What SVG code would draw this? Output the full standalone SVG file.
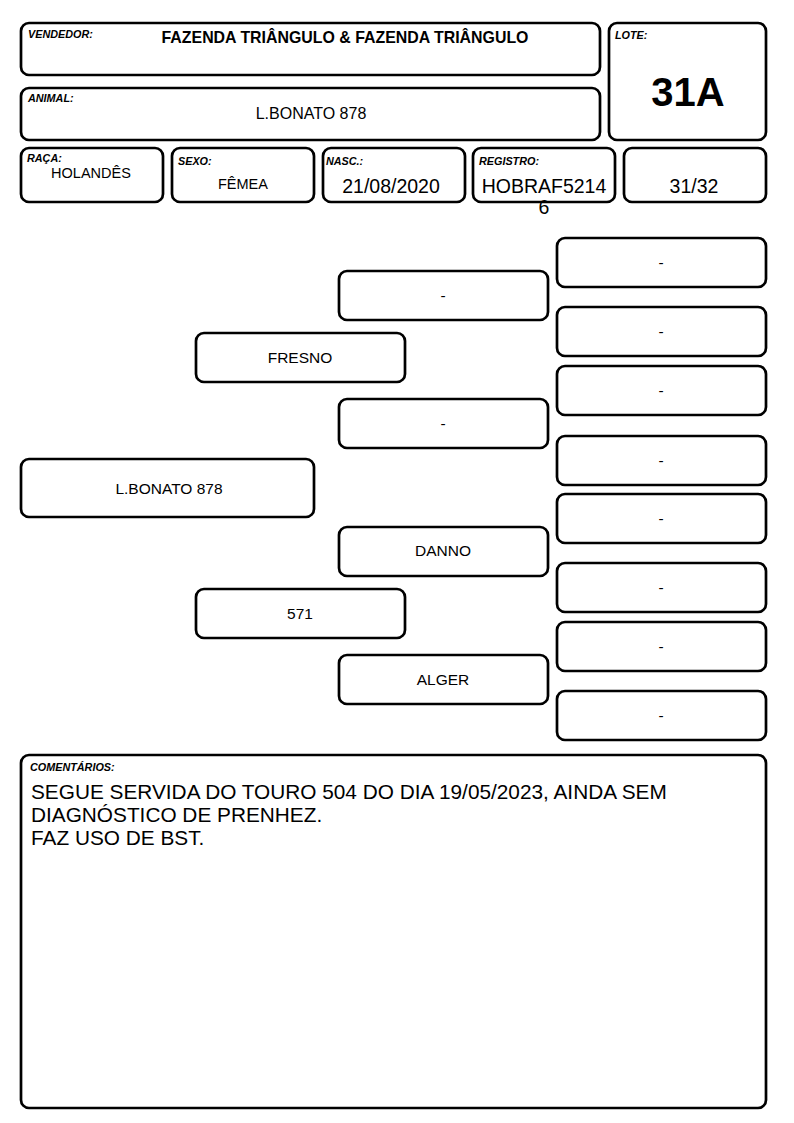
<svg xmlns="http://www.w3.org/2000/svg" width="794" height="1123" viewBox="0 0 794 1123">
<style>
.b{fill:#fff;stroke:#000;stroke-width:2.7}
.lbl{font-family:"Liberation Sans",Arial,sans-serif;font-size:10.8px;font-weight:bold;font-style:italic;fill:#000}
.v{font-family:"Liberation Sans",Arial,sans-serif;fill:#000;text-anchor:middle}
.p{font-family:"Liberation Sans",Arial,sans-serif;font-size:15.5px;fill:#000;text-anchor:middle}
</style>
<rect width="794" height="1123" fill="#fff"/>
<g id="vendedor">
<rect class="b" x="21" y="23" width="579" height="52" rx="8"/>
<text class="lbl" x="28" y="38">VENDEDOR:</text>
<text class="v" x="345" y="43" font-size="15.9" font-weight="bold">FAZENDA TRIÂNGULO &amp; FAZENDA TRIÂNGULO</text>
</g>
<g id="animal">
<rect class="b" x="21" y="88" width="579" height="52" rx="8"/>
<text class="lbl" x="28" y="102">ANIMAL:</text>
<text class="v" x="311" y="119" font-size="16">L.BONATO 878</text>
</g>
<g id="lote">
<rect class="b" x="609" y="23" width="157" height="117" rx="8"/>
<text class="lbl" x="615" y="39">LOTE:</text>
<text class="v" x="688" y="106" font-size="40" font-weight="bold">31A</text>
</g>
<g id="raca">
<rect class="b" x="21" y="148" width="142" height="54" rx="8"/>
<text class="lbl" x="27" y="162">RAÇA:</text>
<text class="v" x="91" y="178" font-size="14.5">HOLANDÊS</text>
</g>
<g id="sexo">
<rect class="b" x="172" y="148" width="142" height="54" rx="8"/>
<text class="lbl" x="178" y="165">SEXO:</text>
<text class="v" x="243" y="189" font-size="14.5">FÊMEA</text>
</g>
<g id="nasc">
<rect class="b" x="323" y="148" width="142" height="54" rx="8"/>
<text class="lbl" x="326" y="165">NASC.:</text>
<text class="v" x="391" y="193" font-size="19.5">21/08/2020</text>
</g>
<g id="registro">
<rect class="b" x="473" y="148" width="142" height="54" rx="8"/>
<text class="lbl" x="479" y="165">REGISTRO:</text>
<text class="v" x="544" y="193" font-size="19.5">HOBRAF5214</text>
<text class="v" x="544" y="214" font-size="19.5">6</text>
</g>
<g id="fracao">
<rect class="b" x="624" y="148" width="142" height="54" rx="8"/>
<text class="v" x="694" y="193" font-size="19.5">31/32</text>
</g>
<g id="connectors"></g>
<g id="ped-animal">
<rect class="b" x="21" y="459" width="293" height="58" rx="8"/>
<text class="p" x="169" y="494">L.BONATO 878</text>
</g>
<g id="pai">
<rect class="b" x="196" y="333" width="209" height="49" rx="8"/>
<text class="p" x="300" y="363">FRESNO</text>
</g>
<g id="mae">
<rect class="b" x="196" y="589" width="209" height="49" rx="8"/>
<text class="p" x="300" y="619">571</text>
</g>
<g id="avo1">
<rect class="b" x="339" y="271" width="209" height="49" rx="8"/>
<text class="p" x="443" y="301">-</text>
</g>
<g id="avo2">
<rect class="b" x="339" y="399" width="209" height="49" rx="8"/>
<text class="p" x="443" y="429">-</text>
</g>
<g id="avo3">
<rect class="b" x="339" y="527" width="209" height="49" rx="8"/>
<text class="p" x="443" y="556">DANNO</text>
</g>
<g id="avo4">
<rect class="b" x="339" y="655" width="209" height="49" rx="8"/>
<text class="p" x="443" y="685">ALGER</text>
</g>
<g id="bis1"><rect class="b" x="557" y="238" width="209" height="49" rx="8"/><text class="p" x="661" y="268">-</text></g>
<g id="bis2"><rect class="b" x="557" y="307" width="209" height="49" rx="8"/><text class="p" x="661" y="337">-</text></g>
<g id="bis3"><rect class="b" x="557" y="366" width="209" height="49" rx="8"/><text class="p" x="661" y="396">-</text></g>
<g id="bis4"><rect class="b" x="557" y="436" width="209" height="49" rx="8"/><text class="p" x="661" y="466">-</text></g>
<g id="bis5"><rect class="b" x="557" y="494" width="209" height="49" rx="8"/><text class="p" x="661" y="524">-</text></g>
<g id="bis6"><rect class="b" x="557" y="563" width="209" height="49" rx="8"/><text class="p" x="661" y="593">-</text></g>
<g id="bis7"><rect class="b" x="557" y="622" width="209" height="49" rx="8"/><text class="p" x="661" y="652">-</text></g>
<g id="bis8"><rect class="b" x="557" y="691" width="209" height="49" rx="8"/><text class="p" x="661" y="721">-</text></g>
<g id="comentarios">
<rect class="b" x="21" y="755" width="745" height="353" rx="8"/>
<text class="lbl" x="30" y="771">COMENTÁRIOS:</text>
<text font-family="'Liberation Sans',Arial,sans-serif" font-size="20.8" fill="#000">
<tspan x="31" y="799">SEGUE SERVIDA DO TOURO 504 DO DIA 19/05/2023, AINDA SEM</tspan>
<tspan x="31" y="822">DIAGNÓSTICO DE PRENHEZ.</tspan>
<tspan x="31" y="845">FAZ USO DE BST.</tspan>
</text>
</g>
</svg>
